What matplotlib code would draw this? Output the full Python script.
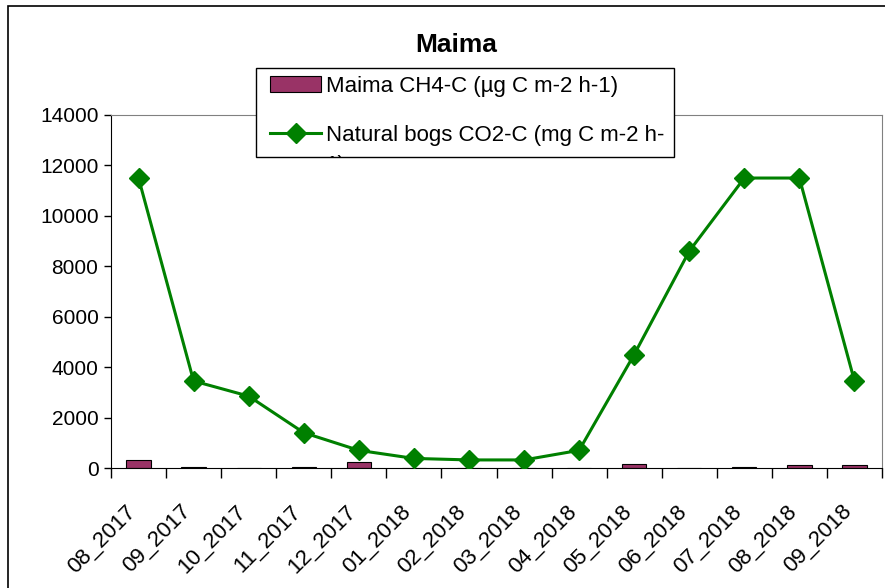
import numpy as np
import matplotlib
matplotlib.use("Agg")
import matplotlib.pyplot as plt
from matplotlib.patches import Rectangle
from matplotlib.lines import Line2D
from matplotlib.transforms import Bbox, ScaledTranslation

months = ["08_2017", "09_2017", "10_2017", "11_2017", "12_2017", "01_2018", "02_2018",
          "03_2018", "04_2018", "05_2018", "06_2018", "07_2018", "08_2018", "09_2018"]
ch4 = [320, 40, 0, 40, 220, 0, 0, 0, 0, 150, 0, 40, 100, 100]
co2 = [11500, 3450, 2850, 1400, 700, 380, 320, 320, 700, 4500, 8600, 11500, 11500, 3450]
ch4_label = "Maima CH4-C (µg C m-2 h-1)"
co2_label = "Natural bogs CO2-C (mg C m-2 h-"
co2_label_rest = "1)"

plt.rcParams['font.family'] = ['Liberation Sans', 'DejaVu Sans']

W, H = 885, 588
fig = plt.figure(figsize=(W / 100, H / 100), dpi=100)
ax = fig.add_axes([111 / W, 1 - 468 / H, (882 - 111) / W, (468 - 115) / H])

# outer chart border
fig.patches.append(Rectangle((8 / W, -0.1), 1.2, 1 - 6 / H + 0.1, transform=fig.transFigure,
                             fill=False, edgecolor="black", linewidth=1.2))

x = np.arange(len(months))
ax.bar(x, ch4, width=0.44, color="#993366", edgecolor="black", linewidth=0.8, zorder=2)
ax.plot(x, co2, color="#008000", marker="D", markersize=10.5, linewidth=2.2, zorder=3)

ax.set_xlim(-0.5, len(months) - 0.5)
ax.set_ylim(0, 14000)
ax.set_yticks(range(0, 14001, 2000))
ax.set_xticks(x)
ax.set_xticklabels(months, rotation=45, ha="right", va="center", rotation_mode="anchor")
ax.set_xticks(np.arange(-0.5, len(months)), minor=True)
ax.tick_params(axis="x", which="major", length=0, pad=29, labelsize=16)
ax.tick_params(axis="x", which="minor", length=7, width=1, color="black")
ax.tick_params(axis="y", length=5, width=1, labelsize=15, pad=4)
shift = ScaledTranslation(-6 / 100, 0, fig.dpi_scale_trans)
for lab in ax.get_xticklabels():
    lab.set_transform(lab.get_transform() + shift)

for s in ("top", "right"):
    ax.spines[s].set_color("#808080")
for s in ("left", "bottom"):
    ax.spines[s].set_color("black")

fig.text(456 / W, 1 - 45 / H, "Maima", ha="center", va="center", fontsize=19, fontweight="bold")

# legend: fixed box, the long label is cut off at the bottom edge
box = (256, 68, 674, 157)
fig.patches.append(Rectangle((box[0] / W, 1 - box[3] / H), (box[2] - box[0]) / W,
                             (box[3] - box[1]) / H, transform=fig.transFigure,
                             facecolor="white", edgecolor="black", linewidth=1, zorder=5))
handles = [Rectangle((0, 0), 1, 1, facecolor="#993366", edgecolor="black", linewidth=0.8),
           Line2D([], [], color="#008000", marker="D", markersize=10.5, linewidth=2.2)]
leg = fig.legend(handles, [ch4_label, co2_label], loc="upper left",
                 bbox_to_anchor=((box[0] + 14) / W, 1 - (box[1] + 8) / H),
                 bbox_transform=fig.transFigure, fontsize=16, frameon=False,
                 borderpad=0, labelspacing=1.25, handlelength=2.3,
                 handletextpad=0.2, borderaxespad=0)
leg.set_zorder(6)

fig.canvas.draw()
tb = leg.get_texts()[1].get_window_extent()
rest = fig.text(tb.x0 / W, (tb.y0 - 30) / H, co2_label_rest, ha="left", va="bottom",
                fontsize=16, zorder=7)
rest.set_clip_box(Bbox([[box[0], H - box[3]], [box[2], H - box[1]]]))
rest.set_clip_on(True)

fig.savefig("out.png", dpi=100)
